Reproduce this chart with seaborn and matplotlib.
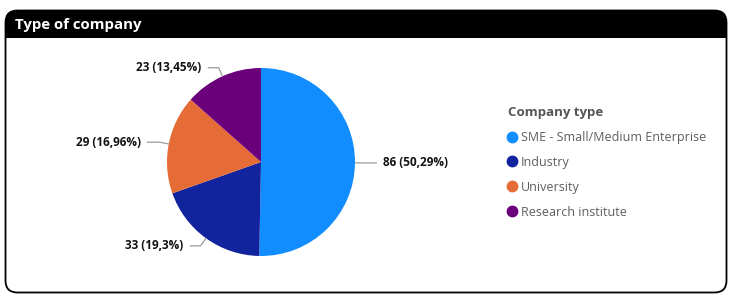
import numpy as np
import matplotlib
matplotlib.use("Agg")
import matplotlib.pyplot as plt
import seaborn as sns
from matplotlib.patches import FancyBboxPatch, Rectangle
from matplotlib.lines import Line2D

sns.set_theme(style="white")
plt.rcParams['font.family'] = ['Open Sans', 'DejaVu Sans']

# ---- data ----
categories = ["SME - Small/Medium Enterprise", "Industry", "University", "Research institute"]
counts = [86, 33, 29, 23]
pct_labels = ["50,29%", "19,3%", "16,96%", "13,45%"]
colors = ["#118DFF", "#12239E", "#E66C37", "#6B007B"]
title = "Type of company"
legend_title = "Company type"

W, H = 731, 300
fig = plt.figure(figsize=(W / 100, H / 100), dpi=100)

# background card
bg = fig.add_axes([0, 0, 1, 1])
bg.set_xlim(0, W)
bg.set_ylim(H, 0)
bg.axis("off")
card = FancyBboxPatch((5.5, 10.5), 721, 282, boxstyle="round,pad=0,rounding_size=12",
                      facecolor="white", edgecolor="black", linewidth=1.3, zorder=1)
bg.add_patch(card)
header = Rectangle((0, 0), W, 37.5, facecolor="black", edgecolor="none", zorder=2)
bg.add_patch(header)
header.set_clip_path(card)
bg.text(15, 25, title, color="white", fontsize=10.8, fontweight="bold",
        va="center", ha="left", zorder=3)

# pie axes
cx, cy, r = 261, 162, 94
ax = fig.add_axes([(cx - r) / W, (H - cy - r) / H, 2 * r / W, 2 * r / H])
wedges, _ = ax.pie(counts, colors=colors, startangle=90, counterclock=False, radius=1,
                   wedgeprops=dict(linewidth=0))
ax.set_xlim(-1, 1)
ax.set_ylim(-1, 1)
ax.set_aspect("equal")
ax.axis("off")

for w, n, p in zip(wedges, counts, pct_labels):
    ang = np.deg2rad((w.theta1 + w.theta2) / 2)
    x0, y0 = np.cos(ang), np.sin(ang)
    x1, y1 = 1.1 * x0, 1.1 * y0
    side = 1 if x0 >= 0 else -1
    hl = 0.13 if abs(y0) < 0.3 else 0.11
    x2 = x1 + side * hl
    ax.plot([x0, x1, x2], [y0, y1, y1], color="#9a9a9a", lw=0.9, clip_on=False)
    ax.text(x2 + side * 0.07, y1, f"{n} ({p})", ha="left" if side > 0 else "right",
            va="center", fontsize=8.5, fontweight="bold", color="#111111")

# legend
handles = [Line2D([0], [0], marker="o", linestyle="none", markersize=7.5,
                  markerfacecolor=c, markeredgecolor=c) for c in colors]
leg = fig.legend(handles, categories, title=legend_title, loc="upper left",
                 bbox_to_anchor=(503 / W, 1 - 101 / H), frameon=False,
                 fontsize=9, title_fontsize=9.5, handlelength=0.6, handletextpad=0.45,
                 labelspacing=0.95, borderaxespad=0)
leg._legend_box.align = "left"
leg.get_title().set_fontweight("bold")
leg.get_title().set_color("#555555")
for t in leg.get_texts():
    t.set_color("#605E5C")

fig.savefig("out.png", dpi=100)
